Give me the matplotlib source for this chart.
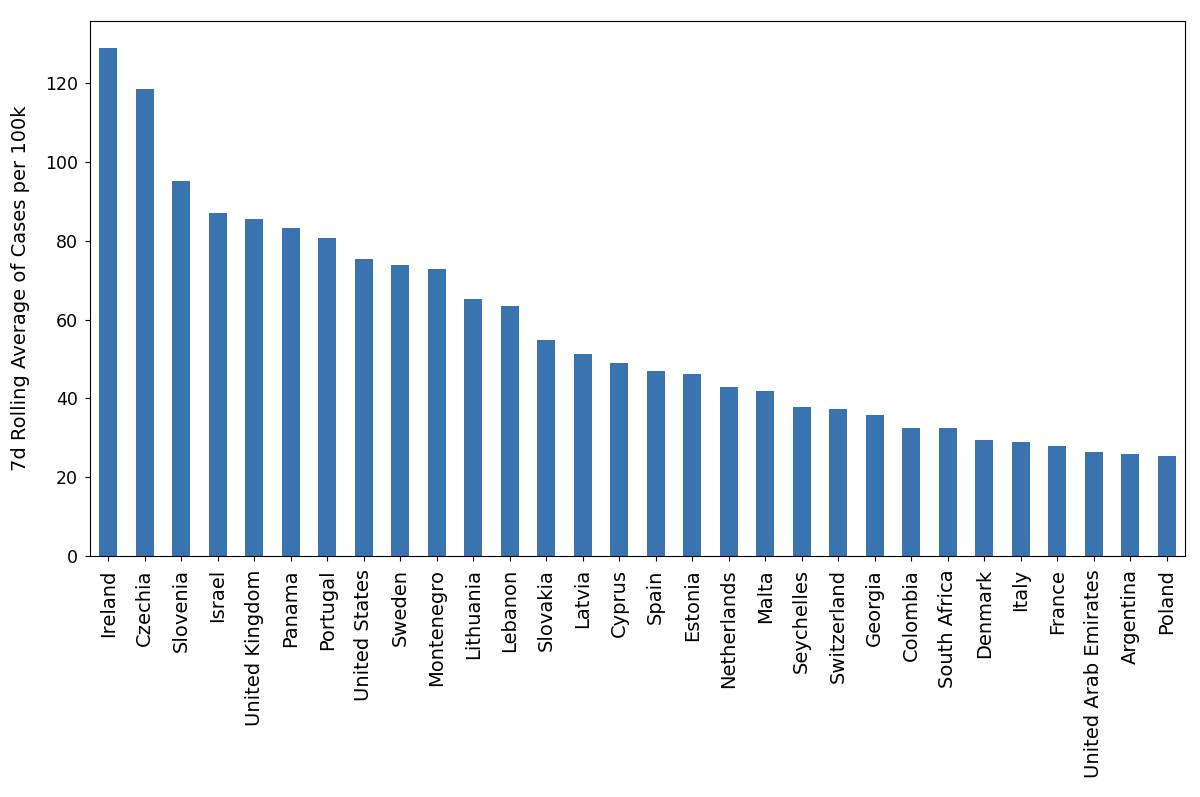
import matplotlib
matplotlib.use('Agg')
import matplotlib.pyplot as plt
import numpy as np

countries = ['Ireland', 'Czechia', 'Slovenia', 'Israel', 'United Kingdom', 'Panama',
             'Portugal', 'United States', 'Sweden', 'Montenegro', 'Lithuania', 'Lebanon',
             'Slovakia', 'Latvia', 'Cyprus', 'Spain', 'Estonia', 'Netherlands', 'Malta',
             'Seychelles', 'Switzerland', 'Georgia', 'Colombia', 'South Africa', 'Denmark',
             'Italy', 'France', 'United Arab Emirates', 'Argentina', 'Poland']
cases = [129.1, 118.6, 95.2, 87.2, 85.7, 83.2, 80.7, 75.3, 73.8, 72.9, 65.3, 63.4,
         54.8, 51.4, 48.9, 46.9, 46.3, 42.9, 41.9, 37.9, 37.4, 35.9, 32.4, 32.4, 29.4,
         28.9, 27.9, 26.5, 26.0, 25.5]

fig = plt.figure(figsize=(12, 7.97), dpi=100)
ax = fig.add_axes([0.075, 0.3024, 0.9125, 0.6716])

x = np.arange(len(countries))
ax.bar(x, cases, width=0.5, color='#3a74b0')
ax.set_xticks(x)
ax.set_xticklabels(countries, rotation=90, fontsize=14)
ax.set_xlim(-0.5, len(countries) - 0.5)
ax.set_ylim(0, max(cases) * 1.053)
ax.tick_params(axis='y', labelsize=12.5, pad=5)
ax.tick_params(axis='x', pad=6)
ax.set_ylabel('7d Rolling Average of Cases per 100k', fontsize=14, labelpad=11)

fig.savefig('out.png', dpi=100)
